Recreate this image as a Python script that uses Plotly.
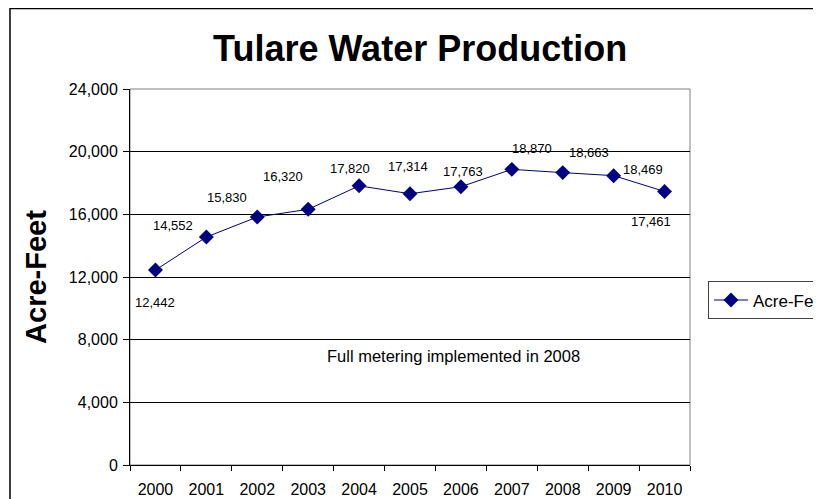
import plotly.graph_objects as go

years = ["2000", "2001", "2002", "2003", "2004", "2005", "2006", "2007", "2008", "2009", "2010"]
acre_feet = [12442, 14552, 15830, 16320, 17820, 17314, 17763, 18870, 18663, 18469, 17461]
y_ticks = [0, 4000, 8000, 12000, 16000, 20000, 24000]
# label offsets (px) relative to each point
label_dx = [0, -33, -30, -25, -9, -2, 2, 20, 26, 29, -14]
label_dy = [-32, 12, 20, 33, 17, 27, 15, 21, 20, 6, -30]

NAVY = "#000080"
FONT = "Liberation Sans, Arial, sans-serif"

fig = go.Figure()
fig.add_trace(go.Scatter(
    x=years, y=acre_feet, mode="lines+markers", name="Acre-Feet",
    line=dict(color=NAVY, width=1),
    marker=dict(symbol="diamond", size=11.5, color=NAVY),
))

for i, (v, dx, dy) in enumerate(zip(acre_feet, label_dx, label_dy)):
    fig.add_annotation(x=i, y=v, xref="x", yref="y", text=f"{v:,}", showarrow=False,
                       xanchor="center", yanchor="middle",
                       xshift=dx, yshift=dy, font=dict(size=13, color="#000", family=FONT))

fig.add_annotation(x=0.5768, y=0.29, xref="paper", yref="paper", text="Full metering implemented in 2008",
                   xanchor="center", yanchor="middle",
                   showarrow=False, font=dict(size=16.5, color="#000", family=FONT))

# plot area border (gray) and outer chart border (black)
fig.add_shape(type="rect", xref="paper", yref="paper", x0=0, x1=1, y0=0, y1=1,
              line=dict(color="#808080", width=1), layer="below")
fig.add_shape(type="rect", xref="paper", yref="paper", x0=-0.2143, x1=1.3, y0=-0.2, y1=1.2141,
              line=dict(color="#000", width=1.5))

fig.update_layout(
    width=821, height=499,
    margin=dict(l=122, r=139, t=81, b=42, autoexpand=False),
    paper_bgcolor="white", plot_bgcolor="white",
    font=dict(family=FONT, color="#000"),
    title=dict(text="<b>Tulare Water Production</b>", x=0.502, xanchor="center", y=0.92, yanchor="middle",
               font=dict(size=36, family=FONT, color="#000")),
    showlegend=True,
    legend=dict(xref="container", yref="container", x=0.8526, y=0.452, xanchor="left", yanchor="top",
                bordercolor="#404040", borderwidth=1,
                font=dict(size=17, family=FONT), bgcolor="white", itemwidth=34,
                tracegroupgap=0),
    xaxis=dict(type="category", categoryorder="array", categoryarray=years,
               tickson="boundaries", ticks="outside", ticklen=5, tickcolor="#000",
               showline=True, linecolor="#000", linewidth=1, showgrid=False,
               tickfont=dict(size=16, family=FONT), range=[-0.5, 10.5], ticklabelstandoff=10,
               automargin=False),
    yaxis=dict(range=[0, 24000], tickvals=y_ticks, tickformat=",", ticks="outside", ticklen=6,
               tickcolor="#000", showline=True, linecolor="#000", linewidth=1,
               showgrid=True, gridcolor="#000", gridwidth=1, zeroline=False,
               tickfont=dict(size=16, family=FONT), automargin=False, ticklabelstandoff=2,
               title=dict(text="<b>Acre-Feet</b>", font=dict(size=29, family=FONT), standoff=13)),
)

fig.write_html("out.html")
